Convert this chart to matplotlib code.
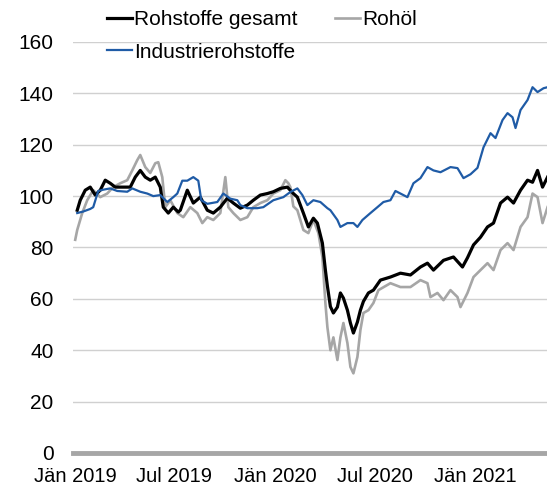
import numpy as np
import pandas as pd
import matplotlib
matplotlib.use("Agg")
import matplotlib.pyplot as plt

# Zeitpunkte in Jahren ab 1.1.2019, Werte als Index
t_gesamt = [0.01, 0.025, 0.05, 0.075, 0.10, 0.125, 0.15, 0.175, 0.20, 0.24, 0.275, 0.30,
            0.325, 0.35, 0.375, 0.40, 0.425, 0.44, 0.465, 0.49, 0.515, 0.525, 0.56, 0.59,
            0.625, 0.66, 0.69, 0.725, 0.76, 0.79, 0.825, 0.86, 0.89, 0.925, 0.96, 0.99,
            1.025, 1.06, 1.09, 1.11, 1.14, 1.165, 1.19, 1.21, 1.235, 1.25, 1.26, 1.275,
            1.29, 1.31, 1.325, 1.34, 1.36, 1.375, 1.39, 1.41, 1.425, 1.44, 1.465, 1.49,
            1.525, 1.575, 1.625, 1.675, 1.725, 1.76, 1.79, 1.84, 1.89, 1.935, 1.96, 1.99,
            2.025, 2.06, 2.09, 2.125, 2.16, 2.19, 2.225, 2.26, 2.285, 2.31, 2.335, 2.36]
gesamt = [94.5, 98.4, 102.3, 103.5, 100.4, 102.3, 106.2, 105, 103.5, 103.5, 103.5, 107.4,
          110, 107.4, 106.2, 107.4, 103.5, 95.7, 93.4, 95.7, 93.8, 94.5, 102.3, 97.3,
          99.6, 94.5, 93.4, 95.7, 99.2, 97.3, 95.3, 96.5, 98.4, 100.4, 101, 101.7,
          103, 103.5, 101, 99.6, 93.4, 88, 91.4, 89.5, 81.7, 71.2, 65, 57,
          54.5, 56.8, 62.3, 60.3, 55.6, 50.6, 46.7, 51, 55.6, 59, 62.3, 63.4,
          67.3, 68.5, 70, 69.3, 72.4, 73.9, 71.2, 75, 76.3, 72.4, 76, 81,
          84, 88, 89.5, 97.3, 99.6, 97.3, 102.3, 106.2, 105.4, 110, 103.5, 107.4]

t_rohoel = [0.0, 0.01, 0.035, 0.06, 0.09, 0.125, 0.16, 0.19, 0.225, 0.26, 0.285, 0.31,
            0.325, 0.35, 0.375, 0.40, 0.415, 0.435, 0.45, 0.475, 0.51, 0.54, 0.575, 0.61,
            0.635, 0.66, 0.69, 0.725, 0.75, 0.765, 0.79, 0.825, 0.86, 0.89, 0.925, 0.96,
            0.99, 1.025, 1.05, 1.065, 1.075, 1.09, 1.11, 1.14, 1.165, 1.19, 1.215, 1.235,
            1.25, 1.26, 1.275, 1.29, 1.31, 1.325, 1.34, 1.36, 1.375, 1.39, 1.41, 1.425,
            1.44, 1.465, 1.49, 1.515, 1.575, 1.625, 1.675, 1.725, 1.76, 1.775, 1.81, 1.84,
            1.875, 1.91, 1.925, 1.96, 1.99, 2.025, 2.06, 2.09, 2.125, 2.16, 2.19, 2.225,
            2.26, 2.285, 2.31, 2.335, 2.36]
rohoel = [83, 86.8, 93.4, 98.4, 102.3, 99.6, 101, 103.5, 105, 106.2, 110, 114,
          116, 111.3, 109, 112.8, 113.2, 107.4, 95.7, 98.4, 93.4, 91.8, 95.7, 93.4,
          89.5, 91.8, 90.7, 93.4, 107.4, 95.7, 93.4, 90.7, 91.8, 95.7, 97.3, 98.4,
          101, 102.3, 106.2, 105, 103.5, 96, 94.5, 86.8, 85.6, 90.7, 85.6, 76.3,
          58.4, 49, 40, 45, 36.2, 45, 50.6, 42.8, 33.5, 31, 37.4, 47.9,
          54.5, 55.6, 58.4, 63.4, 66.1, 64.6, 64.6, 67.3, 66.1, 60.7, 62.3, 59.5,
          63.4, 60.7, 56.8, 62.3, 68.5, 71.2, 73.9, 71.2, 79, 81.7, 79, 88,
          91.8, 101, 99.6, 89.5, 95.7]

t_industrie = [0.01, 0.04, 0.075, 0.09, 0.115, 0.14, 0.175, 0.21, 0.26, 0.285, 0.325, 0.36,
               0.39, 0.425, 0.46, 0.49, 0.51, 0.535, 0.56, 0.59, 0.615, 0.63, 0.66, 0.71,
               0.74, 0.775, 0.81, 0.825, 0.86, 0.91, 0.94, 0.99, 1.04, 1.075, 1.11, 1.135,
               1.16, 1.19, 1.225, 1.26, 1.275, 1.31, 1.325, 1.36, 1.39, 1.41, 1.435, 1.475,
               1.51, 1.54, 1.575, 1.60, 1.625, 1.66, 1.69, 1.725, 1.76, 1.79, 1.825, 1.875,
               1.91, 1.94, 1.975, 2.01, 2.04, 2.075, 2.10, 2.135, 2.16, 2.185, 2.20, 2.225,
               2.26, 2.285, 2.31, 2.34, 2.36]
industrie = [93.4, 94, 95, 95.7, 102, 102.5, 103, 102, 101.7, 103, 101.7, 101,
             100, 100.4, 97.7, 99.6, 101, 106, 106, 107.4, 106, 98.4, 97, 97.7,
             101, 99, 98.4, 96.5, 95.3, 95.3, 95.7, 98.4, 99.6, 101.6, 103, 100.4,
             96.5, 98.4, 97.7, 95.3, 94.5, 90.7, 88, 89.5, 89.5, 88, 90.7, 93.4,
             95.7, 97.7, 98.4, 102, 101, 99.6, 105, 107, 111.3, 110, 109.3, 111.3,
             110.9, 107, 108.5, 111, 119, 124.5, 122.6, 129.6, 132.3, 130.7, 126.5, 133.5,
             137.4, 142.4, 140.5, 142, 142.4]

tick_daten = ["2019-01-01", "2019-07-01", "2020-01-01", "2020-07-01", "2021-01-01"]
tick_labels = ["Jän 2019", "Jul 2019", "Jän 2020", "Jul 2020", "Jän 2021"]


# Umrechnung Jahre -> Datum
def zu_datum(t):
    return pd.Timestamp("2019-01-01") + pd.to_timedelta(np.array(t) * 365.25, unit="D")


plt.rcParams["font.family"] = ["Liberation Sans", "DejaVu Sans"]

fig = plt.figure(figsize=(5.47, 4.91), dpi=100)
ax = fig.add_axes([0.1335, 0.0774, 0.8665, 0.8371])

# Reihenfolge: Rohöl unten, Industrie oben
l_oel, = ax.plot(zu_datum(t_rohoel), rohoel, color="#a6a6a6", lw=1.9, label="Rohöl")
l_ges, = ax.plot(zu_datum(t_gesamt), gesamt, color="black", lw=2.3, label="Rohstoffe gesamt")
l_ind, = ax.plot(zu_datum(t_industrie), industrie, color="#1f5ba6", lw=1.6, label="Industrierohstoffe")

ax.set_ylim(0, 160)
ax.set_yticks(np.arange(0, 161, 20))
ax.set_xlim(pd.Timestamp("2018-12-28"), pd.Timestamp("2021-05-11"))
ax.set_xticks(pd.to_datetime(tick_daten))
ax.set_xticklabels(tick_labels)

ax.grid(axis="y", color="#d0d0d0", lw=1.0)
ax.set_axisbelow(True)
for s in ax.spines.values():
    s.set_visible(False)
ax.axhline(0, color="#a6a6a6", lw=3.5, clip_on=False, zorder=1)

ax.tick_params(axis="both", length=0, colors="black")
ax.tick_params(axis="y", pad=14, labelsize=15)
ax.tick_params(axis="x", pad=10, labelsize=14.5)

fig.legend(handles=[l_ges, l_ind, l_oel], ncol=2, frameon=False, fontsize=15,
           loc="upper left", bbox_to_anchor=(107 / 547, 1 - 10 / 491),
           borderaxespad=0, borderpad=0, handlelength=1.2, handletextpad=0.1,
           labelspacing=0.65, columnspacing=1.8)

plt.savefig("out.png", dpi=100)
